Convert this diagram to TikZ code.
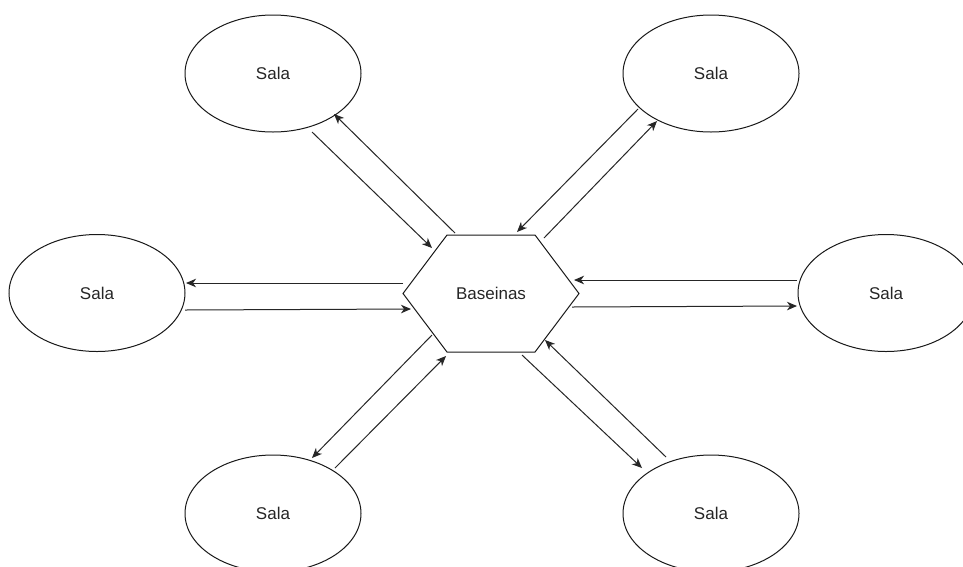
\documentclass[tikz,border=0pt]{standalone}
\usepackage{fontspec}
\setmainfont{Liberation Sans}
\usetikzlibrary{shapes.geometric,arrows.meta,calc}
\begin{document}
\begin{tikzpicture}[x=1pt,y=-1pt,
  labelfont/.style={font=\fontsize{17}{20}\selectfont, text=black!85},
  sala/.style={ellipse, draw=black!90, line width=1pt, minimum width=176pt,
    minimum height=117pt, inner sep=0pt, labelfont},
  link/.style={draw=black!85, line width=1pt,
    -{Stealth[length=10pt,width=8.5pt,inset=3pt]}}
]
  % canvas
  \useasboundingbox (0,0) rectangle (963,566);
  \fill[white] (0,0) rectangle (963,566);
  \clip (0,0) rectangle (963,566);

  % rooms
  \node[sala] (tl) at (273,73.5)  {Sala};
  \node[sala] (tr) at (711,73.5)  {Sala};
  \node[sala] (l)  at (97,293)    {Sala};
  \node[sala] (r)  at (886,293)   {Sala};
  \node[sala] (bl) at (273,513.5) {Sala};
  \node[sala] (br) at (711,513.5) {Sala};

  % central hub
  \node[labelfont, inner sep=0pt] (hex) at (491,293.5) {Baseinas};
  \draw[draw=black!90, line width=1pt]
    ($(hex)+(-88,0)$) -- ($(hex)+(-44,-58.5)$) -- ($(hex)+(44,-58.5)$)
    -- ($(hex)+(88,0)$) -- ($(hex)+(44,58.5)$) -- ($(hex)+(-44,58.5)$) -- cycle;

  % upper left pair
  \draw[link] ($(tl)+(39,58.5)$)    -- ($(hex)+(-59,-45.5)$);
  \draw[link] ($(hex)+(-36,-60.5)$) -- ($(tl)+(61,40.5)$);
  % upper right pair
  \draw[link] ($(tr)+(-73,35.5)$)   -- ($(hex)+(26,-61.5)$);
  \draw[link] ($(hex)+(53,-55.5)$)  -- ($(tr)+(-54,47.5)$);
  % left pair
  \draw[link] ($(hex)+(-88,-10.5)$) -- ($(l)+(89,-10)$);
  \draw[link] ($(l)+(88,17)$)       -- ($(hex)+(-80,15.5)$);
  % right pair
  \draw[link] ($(r)+(-89,-13)$)     -- ($(hex)+(83,-13.5)$);
  \draw[link] ($(hex)+(81,13.5)$)   -- ($(r)+(-89,13)$);
  % lower left pair
  \draw[link] ($(hex)+(-59,41.5)$)  -- ($(bl)+(39,-55.5)$);
  \draw[link] ($(bl)+(62,-45.5)$)   -- ($(hex)+(-45,62.5)$);
  % lower right pair
  \draw[link] ($(hex)+(31,61.5)$)   -- ($(br)+(-69,-45.5)$);
  \draw[link] ($(br)+(-45,-56.5)$)  -- ($(hex)+(54,46.5)$);
\end{tikzpicture}
\end{document}
